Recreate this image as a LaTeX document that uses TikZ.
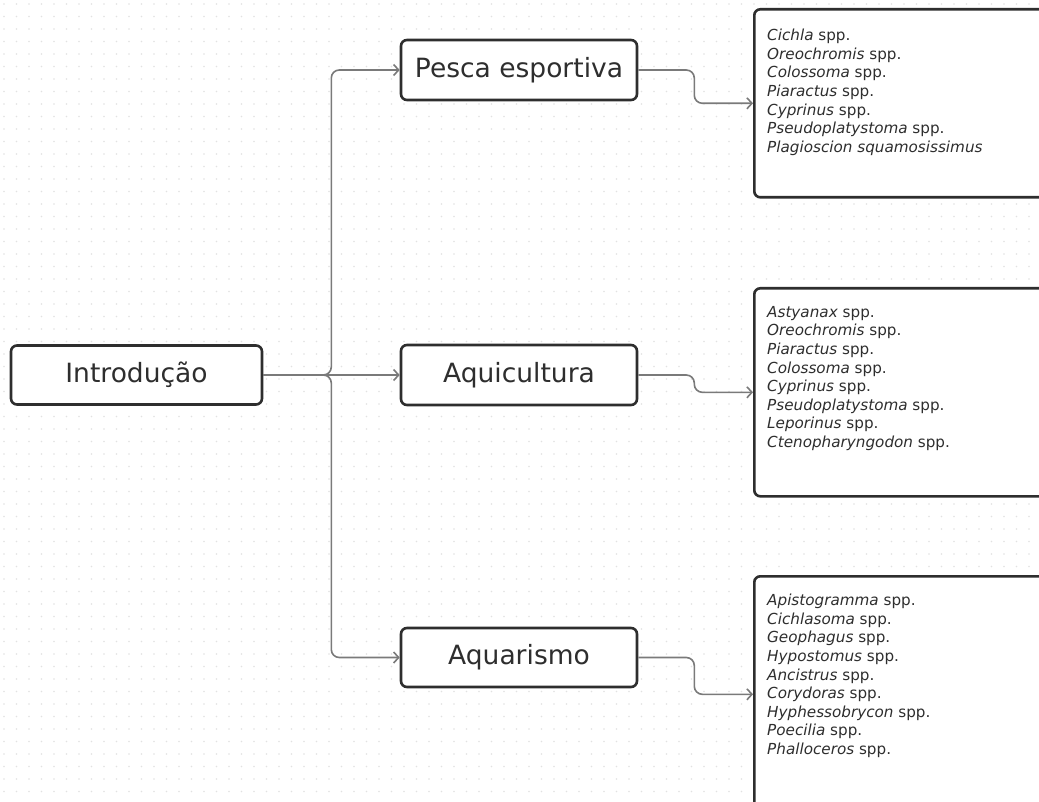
\documentclass[tikz,border=0pt]{standalone}
\usepackage{fontspec}
\setmainfont{DejaVu Sans}
\usetikzlibrary{
  arrows.meta,
  positioning
}
\definecolor{inkgray}{HTML}{2E2E2E}
\definecolor{linkgray}{HTML}{7A7A7A}
\definecolor{dotgray}{HTML}{E2E2E2}
\tikzset{
  topic/.style={
    draw=inkgray,
    line width=2.6pt,
    rounded corners=6pt,
    fill=white,
    text=inkgray,
    minimum width=236pt,
    minimum height=60pt,
    font=\fontsize{26.5}{30}\selectfont
  },
  sppbox/.style={
    draw=inkgray,
    line width=2.6pt,
    rounded corners=6pt,
    fill=white,
    minimum width=300pt,
    anchor=north west
  },
  spptext/.style={
    anchor=north west,
    align=left,
    inner sep=0pt,
    text=inkgray,
    font=\fontsize{15.2}{18.6}\selectfont
  },
  link/.style={
    draw=linkgray,
    line width=1.6pt,
    rounded corners=8pt,
    -{Straight Barb[length=5pt,width=11pt]}
  },
  griddot/.style={
    draw=dotgray,
    line width=1.7pt,
    line cap=round,
    dash pattern=on 0pt off 12.5pt
  }
}
\begin{document}
\begin{tikzpicture}[x=1pt,y=-1pt]
  \useasboundingbox (0,0) rectangle (1039,802);
  \clip (0,0) rectangle (1039,802);
  \fill[white] (0,0) rectangle (1039,802);
  \foreach \gy in {4,16.5,...,802}
    \draw[griddot] (4,\gy) -- (1039,\gy);

  \node[topic, minimum width=251pt, minimum height=59pt] (intro) at (136.5,375) {Introdução};
  \node[topic] (pesca) at (519,70) {Pesca esportiva};
  \node[topic] (aqui) at (519,375) {Aquicultura};
  \node[topic, minimum height=59pt] (aquar) at (519,657.5) {Aquarismo};

  \node[sppbox, minimum height=188pt] (pescaList) at (753,8) {};
  \node[sppbox, minimum height=208pt] (aquiList) at (753,287) {};
  \node[sppbox, minimum height=236pt] (aquarList) at (753,575) {};

  \node[spptext] (pescaSpp) at ([xshift=14pt,yshift=-21pt]pescaList.north west) {%
    \textit{Cichla} spp.\\
    \textit{Oreochromis} spp.\\
    \textit{Colossoma} spp.\\
    \textit{Piaractus} spp.\\
    \textit{Cyprinus} spp.\\
    \textit{Pseudoplatystoma} spp.\\
    \textit{Plagioscion squamosissimus}};
  \node[spptext] (aquiSpp) at ([xshift=14pt,yshift=-19pt]aquiList.north west) {%
    \textit{Astyanax} spp.\\
    \textit{Oreochromis} spp.\\
    \textit{Piaractus} spp.\\
    \textit{Colossoma} spp.\\
    \textit{Cyprinus} spp.\\
    \textit{Pseudoplatystoma} spp.\\
    \textit{Leporinus} spp.\\
    \textit{Ctenopharyngodon} spp.};
  \node[spptext] (aquarSpp) at ([xshift=14pt,yshift=-19pt]aquarList.north west) {%
    \textit{Apistogramma} spp.\\
    \textit{Cichlasoma} spp.\\
    \textit{Geophagus} spp.\\
    \textit{Hypostomus} spp.\\
    \textit{Ancistrus} spp.\\
    \textit{Corydoras} spp.\\
    \textit{Hyphessobrycon} spp.\\
    \textit{Poecilia} spp.\\
    \textit{Phalloceros} spp.};

  \coordinate (fork) at ([xshift=68pt]intro.east);
  \draw[link] (intro.east) -- (aqui.west);
  \draw[link] (intro.east) -- (fork) |- (pesca.west);
  \draw[link] (intro.east) -- (fork) |- (aquar.west);

  \draw[link] (pesca.east) -- ++(56,0) |- (pescaList.west);
  \draw[link] (aqui.east) -- ++(56,0) |- (aquiList.west);
  \draw[link] (aquar.east) -- ++(56,0) |- (aquarList.west);
\end{tikzpicture}
\end{document}
